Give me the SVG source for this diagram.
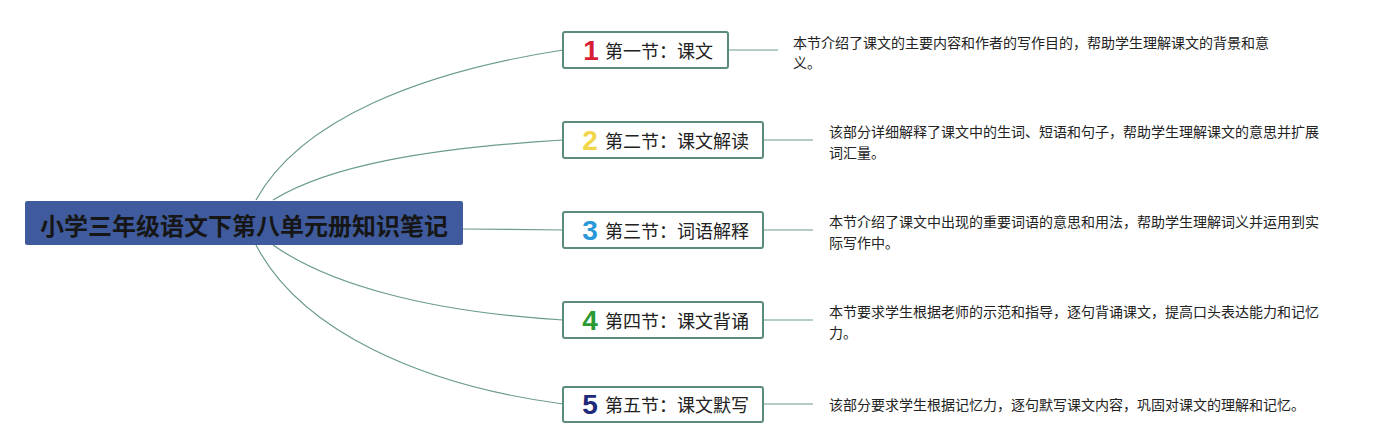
<svg xmlns="http://www.w3.org/2000/svg" width="1389" height="446" viewBox="0 0 1389 446">
<style>
.conn{fill:none;stroke:#6b9c8c;stroke-width:1.2}
.box{fill:#ffffff;stroke:#5b8b7c;stroke-width:2}
.lbl{font-family:"Noto Sans CJK SC","Liberation Sans",sans-serif;font-size:18px;fill:#222222;dominant-baseline:central}
.num{font-family:"Liberation Sans","Noto Sans",sans-serif;font-size:28px;font-weight:bold;dominant-baseline:central;text-anchor:middle}
.desc{font-family:"Noto Sans CJK SC","Liberation Sans",sans-serif;font-size:14px;fill:#222222;dominant-baseline:central}
.root{font-family:"Noto Sans CJK SC","Liberation Sans",sans-serif;font-size:24px;font-weight:bold;fill:#161616;dominant-baseline:central;text-anchor:middle}
</style>
<rect width="1389" height="446" fill="#ffffff"/>
<g id="connectors">
<path class="conn" d="M256,200 C300,120 420,72 563,50"/>
<path class="conn" d="M273,200 C330,165 430,148 563,140"/>
<path class="conn" d="M463,229 L563,230"/>
<path class="conn" d="M273,245 C330,285 430,312 563,320"/>
<path class="conn" d="M256,245 C300,330 420,385 563,404"/>
<path class="conn" d="M728,50 L778,50"/>
<path class="conn" d="M763,140 L813,140"/>
<path class="conn" d="M763,230 L813,230"/>
<path class="conn" d="M763,320 L813,320"/>
<path class="conn" d="M763,404 L813,404"/>
</g>
<g id="root">
<rect x="25" y="201" width="438" height="44" rx="2" fill="#3f5b9d"/>
<text class="root" x="244" y="224">小学三年级语文下第八单元册知识笔记</text>
</g>
<g id="node1">
<rect class="box" x="563" y="32" width="165" height="36" rx="2"/>
<text class="num" x="591" y="50" fill="#d81e36">1</text>
<text class="lbl" x="605" y="50">第一节：课文</text>
<text class="desc" x="793" y="42">本节介绍了课文的主要内容和作者的写作目的，帮助学生理解课文的背景和意</text>
<text class="desc" x="793" y="62">义。</text>
</g>
<g id="node2">
<rect class="box" x="563" y="122" width="200" height="36" rx="2"/>
<text class="num" x="590" y="140" fill="#f3d54c">2</text>
<text class="lbl" x="605" y="140">第二节：课文解读</text>
<text class="desc" x="829" y="131">该部分详细解释了课文中的生词、短语和句子，帮助学生理解课文的意思并扩展</text>
<text class="desc" x="829" y="152">词汇量。</text>
</g>
<g id="node3">
<rect class="box" x="563" y="212" width="200" height="36" rx="2"/>
<text class="num" x="590" y="230" fill="#2a98d8">3</text>
<text class="lbl" x="605" y="230">第三节：词语解释</text>
<text class="desc" x="829" y="221">本节介绍了课文中出现的重要词语的意思和用法，帮助学生理解词义并运用到实</text>
<text class="desc" x="829" y="242">际写作中。</text>
</g>
<g id="node4">
<rect class="box" x="563" y="302" width="200" height="36" rx="2"/>
<text class="num" x="590" y="320" fill="#2c9a33">4</text>
<text class="lbl" x="605" y="320">第四节：课文背诵</text>
<text class="desc" x="829" y="311">本节要求学生根据老师的示范和指导，逐句背诵课文，提高口头表达能力和记忆</text>
<text class="desc" x="829" y="332">力。</text>
</g>
<g id="node5">
<rect class="box" x="563" y="387" width="200" height="35" rx="2"/>
<text class="num" x="590" y="404" fill="#1f2a7a">5</text>
<text class="lbl" x="605" y="404">第五节：课文默写</text>
<text class="desc" x="829" y="404">该部分要求学生根据记忆力，逐句默写课文内容，巩固对课文的理解和记忆。</text>
</g>
</svg>
